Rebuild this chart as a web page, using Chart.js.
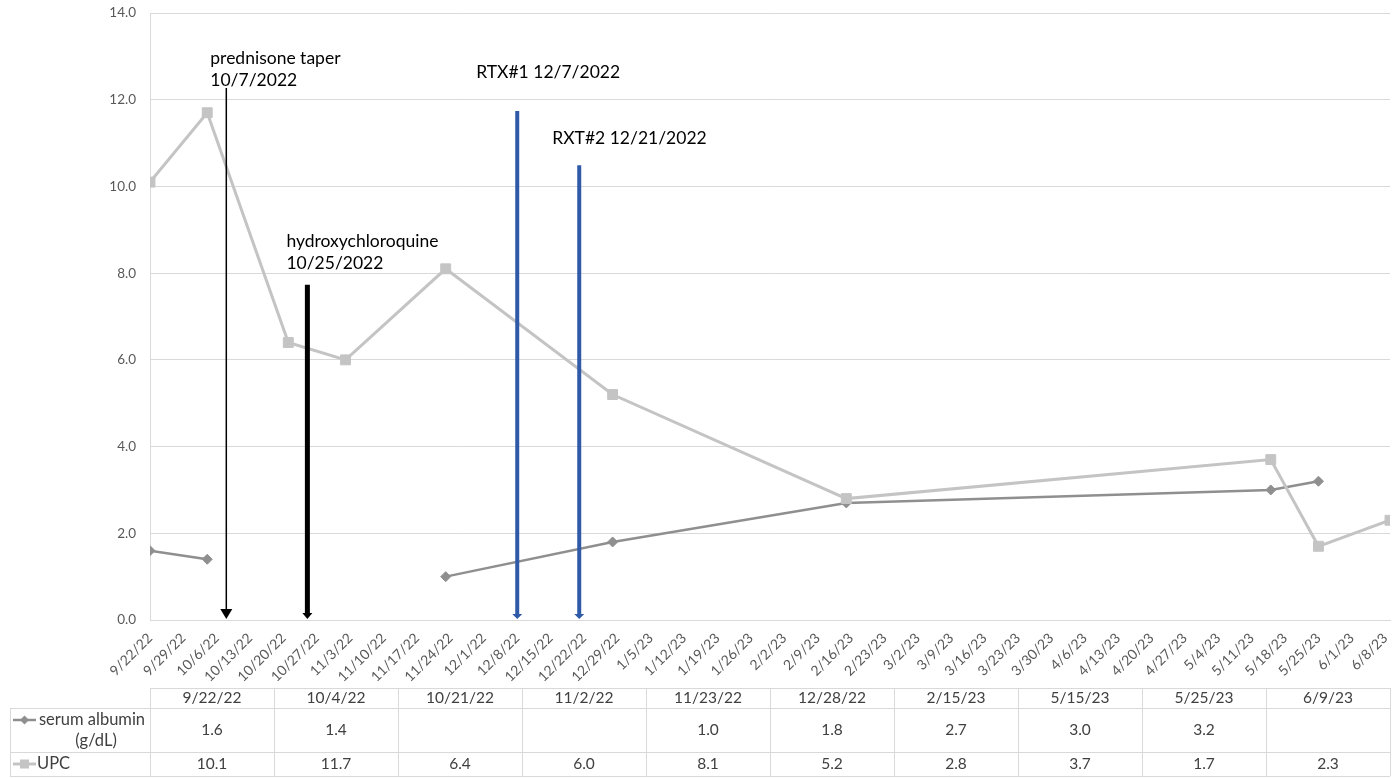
<!DOCTYPE html>
<html>
<head>
<meta charset="utf-8">
<script src="https://cdn.jsdelivr.net/npm/chart.js@4.4.1/dist/chart.umd.min.js"></script>
<style>
  html, body { margin: 0; padding: 0; background: #ffffff; }
  #wrap { position: relative; width: 1400px; height: 778px; }
</style>
</head>
<body>
<div id="wrap"><canvas id="c" width="1400" height="778"></canvas></div>
<script>
// ---------- data ----------
const tickLabels = ['9/22/22','9/29/22','10/6/22','10/13/22','10/20/22','10/27/22','11/3/22','11/10/22','11/17/22','11/24/22','12/1/22','12/8/22','12/15/22','12/22/22','12/29/22','1/5/23','1/12/23','1/19/23','1/26/23','2/2/23','2/9/23','2/16/23','2/23/23','3/2/23','3/9/23','3/16/23','3/23/23','3/30/23','4/6/23','4/13/23','4/20/23','4/27/23','5/4/23','5/11/23','5/18/23','5/25/23','6/1/23','6/8/23'];
const sampleDates = ['9/22/22','10/4/22','10/21/22','11/2/22','11/23/22','12/28/22','2/15/23','5/15/23','5/25/23','6/9/23'];
const albumin = [1.6, 1.4, null, null, 1.0, 1.8, 2.7, 3.0, 3.2, null];
const upc = [10.1, 11.7, 6.4, 6.0, 8.1, 5.2, 2.8, 3.7, 1.7, 2.3];
const seriesNames = ['serum albumin (g/dL)', 'UPC'];
const yTicks = [0, 2, 4, 6, 8, 10, 12, 14];

const eventLabels = [['prednisone taper', '10/7/2022'], ['hydroxychloroquine', '10/25/2022'], ['RTX#1 12/7/2022'], ['RXT#2 12/21/2022']];
const eventDates = ['10/8/22', '10/25/22', '12/8/22', '12/21/22'];
const eventTops = [12.27, 7.73, 11.74, 10.49];

// ---------- helpers ----------
function dayOf(s) {
  const p = s.split('/').map(Number);
  const t = Date.UTC(2000 + p[2], p[0] - 1, p[1]);
  const p0 = tickLabels[0].split('/').map(Number);
  const t0 = Date.UTC(2000 + p0[2], p0[0] - 1, p0[1]);
  return Math.round((t - t0) / 86400000);
}
const tickDays = tickLabels.map(dayOf);
const sampleDays = sampleDates.map(dayOf);
const FONT = 'Lato, "Open Sans", sans-serif';

// styles (kept apart from data)
const eventStyle = [
  { color: '#000000', width: 1.5, head: 6, headLen: 11, dx: -16, dy: -30 },
  { color: '#000000', width: 5, head: 5, headLen: 7, dx: -21, dy: -43 },
  { color: '#2f5aa8', width: 4, head: 5, headLen: 6, dx: -41, dy: -39 },
  { color: '#2f5aa8', width: 4, head: 5, headLen: 6, dx: -27, dy: -27 }
];

const eventsPlugin = {
  id: 'events',
  afterDatasetsDraw(chart) {
    const ctx = chart.ctx, xs = chart.scales.x, ys = chart.scales.y;
    const bottom = ys.getPixelForValue(0);
    eventDates.forEach((d, i) => {
      const st = eventStyle[i];
      const x = xs.getPixelForValue(dayOf(d));
      const top = ys.getPixelForValue(eventTops[i]);
      ctx.save();
      ctx.strokeStyle = st.color;
      ctx.fillStyle = st.color;
      ctx.lineWidth = st.width;
      ctx.beginPath();
      ctx.moveTo(x, top);
      ctx.lineTo(x, bottom - st.headLen + 1);
      ctx.stroke();
      ctx.beginPath();
      ctx.moveTo(x - st.head, bottom - st.headLen);
      ctx.lineTo(x + st.head, bottom - st.headLen);
      ctx.lineTo(x, bottom - 1);
      ctx.closePath();
      ctx.fill();
      ctx.fillStyle = '#000000';
      ctx.font = '17.5px ' + FONT;
      ctx.textAlign = 'left';
      ctx.textBaseline = 'middle';
      eventLabels[i].forEach((line, k) => {
        ctx.fillText(line, x + st.dx, top + st.dy + k * 22);
      });
      ctx.restore();
    });
  }
};

function drawDiamond(ctx, x, y, r, color) {
  ctx.fillStyle = color;
  ctx.beginPath();
  ctx.moveTo(x, y - r); ctx.lineTo(x + r, y); ctx.lineTo(x, y + r); ctx.lineTo(x - r, y);
  ctx.closePath(); ctx.fill();
}

const tablePlugin = {
  id: 'dataTable',
  afterDraw(chart) {
    const ctx = chart.ctx, ca = chart.chartArea;
    const left = ca.left, right = ca.right;
    const n = sampleDates.length;
    const colW = (right - left) / n;
    const y0 = 688, y1 = 708, y2 = 752, y3 = 776, lx = 10;
    ctx.save();
    ctx.strokeStyle = '#d9d9d9';
    ctx.lineWidth = 1;
    ctx.beginPath();
    ctx.moveTo(left, y0 + 0.5); ctx.lineTo(right, y0 + 0.5);
    [y1, y2, y3].forEach(y => { ctx.moveTo(lx, y + 0.5); ctx.lineTo(right, y + 0.5); });
    ctx.moveTo(lx + 0.5, y1); ctx.lineTo(lx + 0.5, y3);
    for (let i = 0; i <= n; i++) {
      const x = Math.round(left + i * colW) + 0.5;
      ctx.moveTo(x, y0); ctx.lineTo(x, y3);
    }
    ctx.stroke();

    ctx.font = '15.5px ' + FONT;
    ctx.fillStyle = '#404040';
    ctx.textAlign = 'center';
    ctx.textBaseline = 'middle';
    for (let i = 0; i < n; i++) {
      const cx = left + (i + 0.5) * colW;
      ctx.fillText(sampleDates[i], cx, (y0 + y1) / 2);
      if (albumin[i] !== null) ctx.fillText(albumin[i].toFixed(1), cx, (y1 + y2) / 2);
      if (upc[i] !== null) ctx.fillText(upc[i].toFixed(1), cx, (y2 + y3) / 2);
    }
    // legend keys
    const aCol = '#8f8f8f', uCol = '#c4c4c4';
    ctx.strokeStyle = aCol; ctx.lineWidth = 2.5;
    ctx.beginPath(); ctx.moveTo(13, 720); ctx.lineTo(36, 720); ctx.stroke();
    drawDiamond(ctx, 24.5, 720, 4.5, aCol);
    ctx.strokeStyle = uCol; ctx.lineWidth = 3;
    ctx.beginPath(); ctx.moveTo(13, 764); ctx.lineTo(36, 764); ctx.stroke();
    ctx.fillStyle = uCol; ctx.fillRect(20, 759.5, 9, 9);
    ctx.fillStyle = '#404040';
    ctx.font = '16.5px ' + FONT;
    ctx.fillText('serum albumin', 92, 720);
    ctx.fillText('(g/dL)', 96, 741);
    ctx.textAlign = 'left';
    ctx.fillText(seriesNames[1], 37, 764);
    ctx.restore();
  }
};

const tickLabelByDay = {};
tickDays.forEach((d, i) => { tickLabelByDay[d] = tickLabels[i]; });

new Chart(document.getElementById('c'), {
  type: 'line',
  data: {
    datasets: [
      {
        label: seriesNames[0],
        data: sampleDays.map((d, i) => ({ x: d, y: albumin[i] })),
        borderColor: '#8f8f8f',
        backgroundColor: '#8f8f8f',
        borderWidth: 2.5,
        pointStyle: 'rectRot',
        pointRadius: 5,
        pointBorderWidth: 1,
        spanGaps: false,
        order: 2
      },
      {
        label: seriesNames[1],
        data: sampleDays.map((d, i) => ({ x: d, y: upc[i] })),
        borderColor: '#c4c4c4',
        backgroundColor: '#c4c4c4',
        borderWidth: 3,
        pointStyle: 'rect',
        pointRadius: 7,
        pointBorderWidth: 1,
        spanGaps: false,
        order: 1
      }
    ]
  },
  options: {
    responsive: false,
    animation: false,
    layout: { padding: { top: 13, right: 10, left: 0, bottom: 0 } },
    plugins: { legend: { display: false }, tooltip: { enabled: false } },
    scales: {
      x: {
        type: 'linear',
        min: 0,
        max: dayOf(sampleDates[sampleDates.length - 1]),
        grid: { display: false },
        border: { display: true, color: '#d9d9d9', width: 1 },
        afterBuildTicks(scale) { scale.ticks = tickDays.map(v => ({ value: v })); },
        afterFit(scale) { scale.height = 158; scale.paddingTop = 0; scale.paddingBottom = 0; },
        ticks: {
          autoSkip: false,
          maxRotation: 45,
          minRotation: 45,
          padding: 2,
          color: '#595959',
          font: { family: FONT, size: 14 },
          callback(v) { return tickLabelByDay[v] || ''; }
        }
      },
      y: {
        min: 0,
        max: 14,
        afterBuildTicks(scale) { scale.ticks = yTicks.map(v => ({ value: v })); },
        afterFit(scale) { scale.width = 150; scale.paddingTop = 0; scale.paddingBottom = 0; },
        grid: { color: '#d9d9d9', lineWidth: 1, drawTicks: false },
        border: { display: true, color: '#d9d9d9', width: 1 },
        ticks: {
          padding: 14,
          color: '#595959',
          font: { family: FONT, size: 13.5 },
          callback(v) { return Number(v).toFixed(1); }
        }
      }
    }
  },
  plugins: [eventsPlugin, tablePlugin]
});
</script>
</body>
</html>
